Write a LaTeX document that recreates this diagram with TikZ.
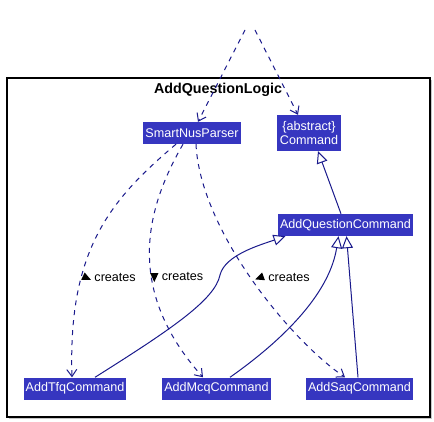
\documentclass[tikz,border=0pt]{standalone}
\usepackage{fontspec}
\setmainfont{Liberation Sans}
\usetikzlibrary{arrows.meta,positioning}
\definecolor{classBlue}{RGB}{54,54,192}
\definecolor{linkBlue}{RGB}{26,26,140}
\newcommand{\dirMark}[1]{\tikz[baseline=-0.6ex]\fill[black,rotate=#1] (0:6pt)--(125:5pt)--(235:5pt)--cycle;}

\begin{document}
\begin{tikzpicture}[
  x=1pt, y=-1pt,
  every node/.style={font=\fontsize{12.6}{14}\selectfont},
  cls/.style={rectangle, fill=classBlue, text=white, align=center, inner xsep=2pt, inner ysep=2pt, minimum height=22pt},
  pkgFrame/.style={draw=black, line width=1.2pt, fill=white},
  createsLabel/.style={anchor=west, text=black, inner sep=1pt},
  arrowDashed/.style={-{Straight Barb[length=7pt,width=10pt]}, dash pattern=on 5pt off 5pt, line width=1pt, color=linkBlue},
  arrowExtends/.style={-{Triangle[open,length=12pt,width=11pt,fill=white]}, line width=1pt, color=linkBlue}
]
\useasboundingbox (0,0) rectangle (434,422);

% Package frame
\fill[gray!45] (9,80) rectangle (432,419);
\draw[pkgFrame] (7,78) rectangle (430,417);
\node[font=\bfseries\fontsize{14.3}{17}\selectfont] (title) at (218,90) {AddQuestionLogic};

% Classes
\node[cls, minimum width=98pt] (parser) at (192,133) {SmartNusParser};
\node[cls, minimum width=64pt, minimum height=36pt] (command) at (309,133) {\{abstract\}\\Command};
\node[cls, minimum width=135pt] (addQuestion) at (345.5,225) {AddQuestionCommand};
\node[cls, minimum width=102pt] (addTfq) at (75,388.5) {AddTfqCommand};
\node[cls, minimum width=107pt] (addMcq) at (216.5,388.5) {AddMcqCommand};
\node[cls, minimum width=107pt] (addSaq) at (359.5,388.5) {AddSaqCommand};

% Incoming links from outside
\coordinate (outerA) at (245,30);
\coordinate (outerB) at (255,30);
\draw[arrowDashed] (outerA) -- ([xshift=6pt]parser.north);
\draw[arrowDashed] (outerB) -- ([xshift=-11pt]command.north);

% Parser creates commands
\draw[arrowDashed] ([xshift=-16pt]parser.south) .. controls (110,200) and (68,250) .. ([xshift=-3pt]addTfq.north);
\draw[arrowDashed] ([xshift=-9pt]parser.south) .. controls (145,210) and (125,290) .. ([xshift=-13.5pt]addMcq.north);
\draw[arrowDashed] ([xshift=4pt]parser.south) .. controls (200,230) and (290,340) .. ([xshift=-14.5pt]addSaq.north);
\node[createsLabel] (createsTfq) at (80,277) {\dirMark{-25} creates};
\node[createsLabel] (createsMcq) at (149,277) {\dirMark{-90} creates};
\node[createsLabel] (createsSaq) at (254,277) {\dirMark{200} creates};

% Inheritance
\draw[arrowExtends] ([xshift=-4.5pt]addQuestion.north) -- ([xshift=9pt]command.south);
\draw[arrowExtends] ([xshift=20pt]addTfq.north) .. controls (170,330) and (215,300) .. (220,275) .. controls (225,255) and (260,245) .. ([xshift=-60pt]addQuestion.south);
\draw[arrowExtends] ([xshift=13.5pt]addMcq.north) .. controls (290,335) and (330,290) .. ([xshift=-7pt]addQuestion.south);
\draw[arrowExtends] ([xshift=-1.5pt]addSaq.north) -- ([xshift=1pt]addQuestion.south);

\end{tikzpicture}
\end{document}
